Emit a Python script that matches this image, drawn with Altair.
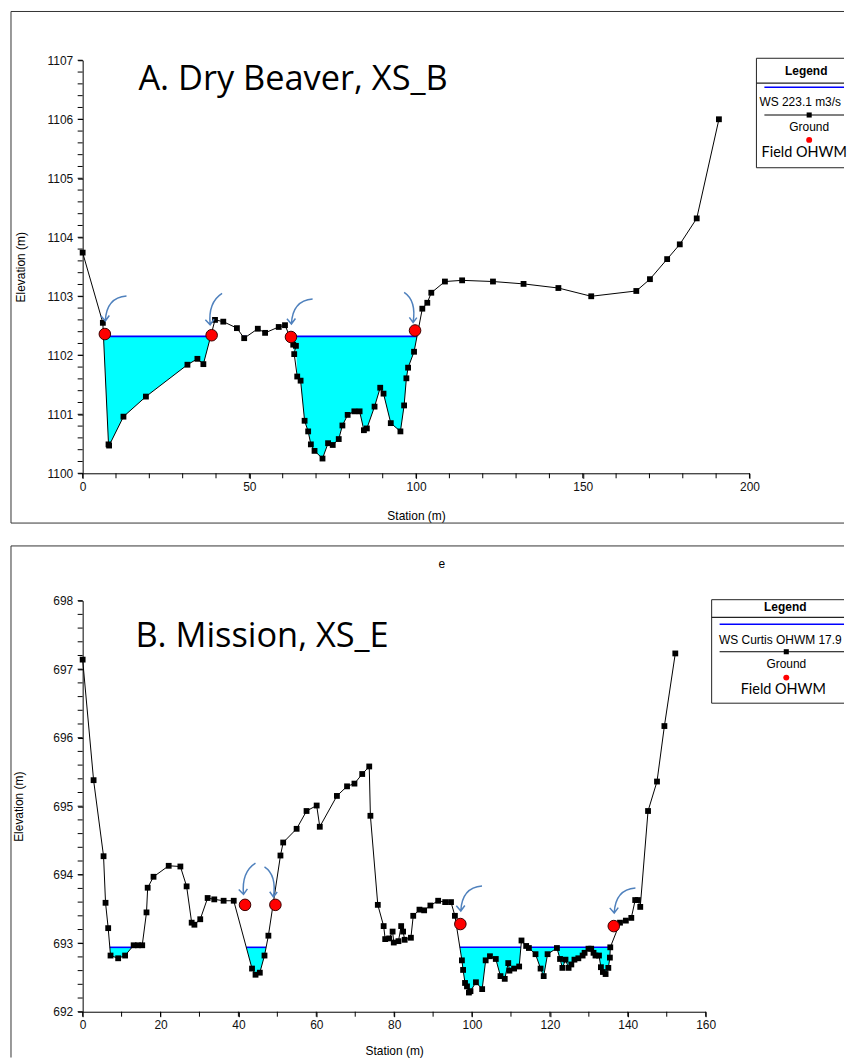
import altair as alt
import pandas as pd
import numpy as np

# ---------------- Panel A: Dry Beaver, XS_B ----------------
a_station = [0.0, 6.06, 7.76, 7.94, 12.24, 18.98, 31.43, 34.42, 36.21, 39.70, 42.18, 46.27,
             48.45, 52.54, 54.72, 58.81, 60.69, 63.16, 63.97, 63.46, 64.36, 65.37, 66.57,
             67.64, 68.45, 69.55, 71.94, 73.61, 75.01, 76.81, 77.91, 79.49, 81.49, 83.07,
             84.36, 85.25, 87.55, 89.25, 90.24, 92.42, 95.31, 96.42, 97.10, 97.61, 99.40,
             101.88, 103.37, 104.57, 108.66, 113.82, 123.07, 132.24, 142.69, 152.54,
             166.06, 170.15, 175.31, 179.10, 184.18, 190.84]
a_elev = [1103.74, 1102.55, 1100.49, 1100.47, 1100.96, 1101.30, 1101.84, 1101.94, 1101.85,
          1102.60, 1102.57, 1102.46, 1102.29, 1102.45, 1102.38, 1102.48, 1102.51, 1102.18,
          1102.16, 1102.02, 1101.64, 1101.57, 1100.89, 1100.71, 1100.49, 1100.38, 1100.25,
          1100.51, 1100.48, 1100.58, 1100.81, 1100.99, 1101.05, 1101.05, 1100.73, 1100.76,
          1101.13, 1101.45, 1101.35, 1100.85, 1100.71, 1101.15, 1101.61, 1101.79, 1102.06,
          1102.79, 1102.89, 1103.06, 1103.25, 1103.27, 1103.25, 1103.21, 1103.14, 1103.00,
          1103.09, 1103.29, 1103.63, 1103.88, 1104.32, 1106.00]
a_ws = 1102.32
a_ohwm_station = [6.66, 38.69, 62.48, 99.70]
a_ohwm_elev = [1102.36, 1102.34, 1102.31, 1102.42]
a_arrow_kind = ["A", "A2", "A", "B"]
a_y_major = [1100, 1101, 1102, 1103, 1104, 1105, 1106, 1107]
a_x_major = [0, 50, 100, 150, 200]

# ---------------- Panel B: Mission, XS_E ----------------
b_station = [0.0, 2.81, 5.37, 5.88, 6.56, 7.16, 9.12, 10.9, 13.1, 14.2, 15.3, 16.4, 16.7,
             18.2, 22.1, 25.1, 26.7, 28.0, 28.7, 30.2, 32.1, 33.8, 36.2, 38.8, 43.5, 44.4,
             45.5, 46.7, 47.7, 50.8, 51.5, 54.95, 57.5, 60.1, 60.9, 65.3, 67.9, 69.8, 71.8,
             73.6, 73.9, 75.8, 77.3, 77.7, 78.7, 79.6, 79.9, 81.1, 81.8, 82.3, 82.7, 84.3,
             84.9, 86.5, 87.7, 89.3, 91.3, 93.1, 94.6, 95.6, 97.4, 97.7, 98.2, 98.7, 99.2,
             99.6, 101.0, 102.6, 103.5, 104.6, 106.1, 107.3, 108.4, 109.3, 109.6, 110.8,
             112.1, 112.7, 113.9, 114.6, 116.3, 117.6, 118.4, 119.4, 121.8, 122.6, 123.2,
             124.0, 124.8, 125.5, 126.3, 127.3, 128.4, 128.9, 129.9, 130.6, 131.2, 131.7,
             132.6, 133.1, 133.6, 134.3, 135.0, 135.4, 135.5, 138.0, 139.5, 140.9, 141.9,
             142.6, 143.2, 145.2, 147.5, 149.4, 152.2]
b_elev = [697.14, 695.38, 694.27, 693.59, 693.22, 692.82, 692.78, 692.82, 692.97, 692.97,
          692.97, 693.45, 693.81, 693.97, 694.13, 694.12, 693.83, 693.30, 693.27, 693.35,
          693.66, 693.64, 693.62, 693.62, 692.63, 692.54, 692.57, 692.82, 693.11, 694.28,
          694.47, 694.67, 694.93, 695.01, 694.70, 695.15, 695.29, 695.33, 695.47, 695.58,
          694.86, 693.56, 693.25, 693.06, 693.07, 693.17, 693.01, 693.03, 693.25, 693.17,
          693.05, 693.08, 693.40, 693.49, 693.48, 693.55, 693.62, 693.60, 693.60, 693.40,
          692.75, 692.61, 692.42, 692.37, 692.28, 692.30, 692.43, 692.33, 692.75, 692.81,
          692.77, 692.52, 692.48, 692.71, 692.60, 692.63, 692.66, 693.04, 692.96, 692.93,
          692.84, 692.63, 692.52, 692.84, 692.93, 692.77, 692.64, 692.76, 692.64, 692.69,
          692.76, 692.78, 692.82, 692.86, 692.92, 692.92, 692.86, 692.82, 692.82, 692.65,
          692.58, 692.55, 692.64, 692.79, 692.94, 693.30, 693.33, 693.37, 693.63, 693.63,
          693.53, 694.93, 695.36, 696.17, 697.23]
b_ws = 692.94
b_ohwm_station = [41.7, 49.5, 97.0, 136.4]
b_ohwm_elev = [693.56, 693.56, 693.28, 693.25]
b_arrow_kind = ["A2", "B", "A", "A"]
b_y_major = [692, 693, 694, 695, 696, 697, 698]
b_x_major = [0, 20, 40, 60, 80, 100, 120, 140, 160]

# hand-drawn arrow glyphs (symbol paths, unit = sqrt(size)/2 px)
ARROW_PATHS = {
    "A": "M 1.45 -2.55 Q 0.1 -2.45 0.03 -0.87 M -0.27 -1.22 L 0.03 -0.87 L 0.3 -1.24",
    "A2": "M 0.7 -2.8 Q -0.25 -2.2 -0.1 -0.7 M -0.42 -1.03 L -0.1 -0.7 L 0.16 -1.07",
    "B": "M -0.73 -2.55 Q 0.1 -2.0 -0.13 -0.53 M -0.38 -0.88 L -0.13 -0.53 L 0.12 -0.86",
}

ONE = pd.DataFrame({"k": [0]})
SANS = "Liberation Sans"
CAL = "Lato"
RIGHT = 765


def wet_geometry(st, el, ws):
    pts = sorted(zip(st, el))
    xs, ys = [pts[0][0]], [pts[0][1]]
    for (x0, y0), (x1, y1) in zip(pts[:-1], pts[1:]):
        if (y0 - ws) * (y1 - ws) < 0:
            t = (ws - y0) / (y1 - y0)
            xs.append(x0 + t * (x1 - x0))
            ys.append(ws)
        xs.append(x1)
        ys.append(y1)
    fill = pd.DataFrame({"station": xs, "low": np.minimum(ys, ws), "ws": ws})
    segs, start = [], None
    for i in range(len(xs) - 1):
        wet = min(ys[i], ys[i + 1]) < ws - 1e-9 and max(ys[i], ys[i + 1]) <= ws + 1e-9
        if wet and start is None:
            start = xs[i]
        if not wet and start is not None:
            segs.append((start, xs[i]))
            start = None
    if start is not None:
        segs.append((start, xs[-1]))
    wsdf = pd.DataFrame({"x0": [s[0] for s in segs], "x1": [s[1] for s in segs], "ws": ws})
    return fill, wsdf


def px_rule(x, y, x2=None, y2=None, color="black", width=1.0):
    enc = dict(x=alt.value(x), y=alt.value(y))
    if x2 is not None:
        enc["x2"] = alt.value(x2)
    if y2 is not None:
        enc["y2"] = alt.value(y2)
    return alt.Chart(ONE).mark_rule(color=color, strokeWidth=width).encode(**enc)


def px_text(x, y, text, font=SANS, size=12, weight="normal", align="center",
            baseline="middle", color="black"):
    return alt.Chart(ONE).mark_text(text=text, font=font, fontSize=size, fontWeight=weight,
                                    align=align, baseline=baseline, color=color).encode(
        x=alt.value(x), y=alt.value(y))


def panel(st, el, ws, oh_st, oh_el, oh_kind, xdom, x_major, y_major, ydom, W, H,
          title, title_pos, legend, frame, ws_label, extra=None):
    xscale = alt.Scale(domain=xdom, nice=False, zero=False)
    yscale = alt.Scale(domain=ydom, nice=False, zero=False)
    xaxis = alt.Axis(title="Station (m)", values=x_major, format="d",
                     labelFlush=False, labelOverlap=False, tickSize=5, labelPadding=3,
                     grid=False, titleY=frame["xtitle"], titleBaseline="middle")
    yaxis = alt.Axis(title="Elevation (m)", values=y_major, format="d",
                     labelFlush=False, labelOverlap=False, tickSize=5, labelPadding=5,
                     grid=False, titlePadding=frame["ytitlepad"])

    def X(f):
        return alt.X(f, scale=xscale, axis=xaxis)

    def Y(f):
        return alt.Y(f, scale=yscale, axis=yaxis)

    ground = pd.DataFrame({"station": st, "elev": el, "idx": range(len(st))})
    ohwm = pd.DataFrame({"station": oh_st, "elev": oh_el, "kind": oh_kind})
    fill, wsdf = wet_geometry(st, el, ws)
    # minor axis ticks (every 10 m in x, every 0.2 m in y)
    xminor = pd.DataFrame({"station": np.arange(xdom[0], xdom[1] + 0.001, 10.0)})
    yminor = pd.DataFrame({"elev": np.round(np.arange(ydom[0], ydom[1] + 0.001, 0.2), 1)})

    layers = [
        alt.Chart(fill).mark_area(color="#00ffff", opacity=1, interpolate="linear").encode(
            x=X("station:Q"), y=Y("low:Q"), y2="ws:Q"),
        alt.Chart(wsdf).mark_rule(color="#0000ff", strokeWidth=1.6).encode(
            x=X("x0:Q"), x2="x1:Q", y=Y("ws:Q")),
        alt.Chart(ground).mark_line(color="black", strokeWidth=1).encode(
            x=X("station:Q"), y=Y("elev:Q"), order="idx:Q"),
        alt.Chart(ground).mark_square(color="black", size=34, opacity=1).encode(
            x=X("station:Q"), y=Y("elev:Q")),
        alt.Chart(ohwm).mark_circle(color="#ff0000", size=135, opacity=1,
                                    stroke="#3a0000", strokeWidth=1).encode(
            x=X("station:Q"), y=Y("elev:Q")),
        alt.Chart(ohwm).mark_point(filled=False, color="#4f81bd", strokeWidth=1.5,
                                   opacity=1, size=900).encode(
            x=X("station:Q"), y=Y("elev:Q"),
            shape=alt.Shape("kind:N", legend=None,
                            scale=alt.Scale(domain=list(ARROW_PATHS.keys()),
                                            range=list(ARROW_PATHS.values())))),
        alt.Chart(xminor).mark_rule(color="black", strokeWidth=1).encode(
            x=X("station:Q"), y=alt.value(H), y2=alt.value(H + 5)),
        alt.Chart(yminor).mark_rule(color="black", strokeWidth=1).encode(
            y=Y("elev:Q"), x=alt.value(-5), x2=alt.value(0)),
        px_text(title_pos[0], title_pos[1], title, font="Open Sans", size=34.5,
                align="left", baseline="alphabetic"),
    ]
    L = legend
    layers += [
        px_rule(L["left"], L["top"], x2=RIGHT, color="#222"),
        px_rule(L["left"], L["top"], y2=L["bottom"], color="#222"),
        px_rule(L["left"], L["bottom"], x2=RIGHT, color="#222"),
        px_rule(L["left"], L["sep"], x2=RIGHT, color="#222", width=1.3),
        px_text(L["cx"], L["head"], "Legend", weight="bold"),
        px_rule(L["line0"], L["blue"], x2=RIGHT, color="#0000ff", width=1.5),
        px_text(L["wsx"], L["ws"], ws_label, size=L["wssize"]),
        px_rule(L["line0"], L["black"], x2=RIGHT, color="black"),
        alt.Chart(ONE).mark_square(color="black", size=26, opacity=1).encode(
            x=alt.value(L["sym"]), y=alt.value(L["black"])),
        px_text(L["sym"], L["ground"], "Ground"),
        alt.Chart(ONE).mark_circle(color="#ff0000", size=36, opacity=1).encode(
            x=alt.value(L["sym"]), y=alt.value(L["dot"])),
        px_text(L["cx"] - 2, L["field"], "Field OHWM", font=CAL, size=14.5),
    ]
    F = frame
    layers += [
        px_rule(-72, F["top"], x2=RIGHT, color="#333"),
        px_rule(-72, F["top"], y2=F["bottom"], color="#333"),
    ]
    if F.get("closed"):
        layers.append(px_rule(-72, F["bottom"], x2=RIGHT, color="#333"))
    if extra:
        layers.append(px_text(extra[0], extra[1], extra[2], size=12))
    return alt.layer(*layers).properties(width=W, height=H)


top = panel(a_station, a_elev, a_ws, a_ohwm_station, a_ohwm_elev, a_arrow_kind,
            [0, 200], a_x_major, a_y_major, [1100, 1107], 670, 415,
            "A. Dry Beaver, XS_B", (56, 30),
            dict(left=677, top=-2, bottom=108, sep=23, head=10.5, cx=727, line0=685,
                 blue=27, ws=41.7, wsx=721, wssize=12, black=55, sym=730, ground=67,
                 dot=80, field=93),
            dict(top=-49, bottom=465, closed=True, xtitle=42, ytitlepad=20),
            "WS 223.1 m3/s")

bottom = panel(b_station, b_elev, b_ws, b_ohwm_station, b_ohwm_elev, b_arrow_kind,
               [0, 160], b_x_major, b_y_major, [692, 698], 626, 413,
               "B. Mission, XS_E", (53, 47),
               dict(left=632, top=-1, bottom=103, sep=16.7, head=6.7, cx=706, line0=640,
                    blue=23.7, ws=39.3, wsx=701, wssize=12, black=51.3, sym=707,
                    ground=63.7, dot=77.3, field=90),
               dict(top=-55, bottom=459, closed=False, xtitle=39, ytitlepad=27),
               "WS Curtis OHWM 17.9", extra=(361, -37, "e"))

chart = alt.vconcat(top, bottom, spacing=21).properties(
    padding={"left": 2, "top": 0, "right": 0, "bottom": 0}, background="white"
).configure_view(stroke=None).configure_axis(
    labelFont=SANS, labelFontSize=12, labelColor="#111", domainColor="#000",
    tickColor="#000", titleFont=SANS, titleFontSize=12, titleFontWeight="normal",
    titleColor="#000", domainWidth=1, tickWidth=1)

chart.save("out.html", embed_options={"renderer": "svg", "actions": False})
